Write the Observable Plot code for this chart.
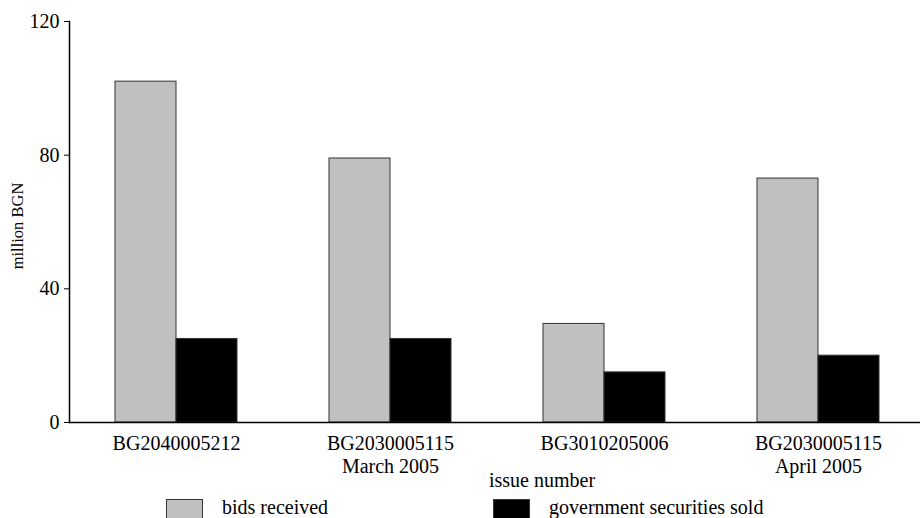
<!DOCTYPE html>
<html><head>
<meta charset="utf-8">
<script src="https://cdn.jsdelivr.net/npm/d3@7"></script>
<script src="https://cdn.jsdelivr.net/npm/@observablehq/plot@0.6"></script>
<style>
body{margin:0;background:#fff;font-family:"Liberation Serif","Times New Roman",serif;}
#wrap{position:relative;width:920px;height:518px;overflow:hidden;background:#fff;}
#wrap svg{position:absolute;left:0;top:0;overflow:visible;}
.lbl{position:absolute;font-size:20px;line-height:20px;color:#000;white-space:nowrap;}
.ylab{position:absolute;left:18px;top:226px;font-size:16.5px;line-height:16px;transform:translate(-50%,-50%) rotate(-90deg);white-space:nowrap;}
.sw{position:absolute;box-sizing:border-box;border:1px solid #333;}
</style></head><body><div id="wrap"></div>
<script>
const issues = ["BG2040005212", "BG2030005115\nMarch 2005", "BG3010205006", "BG2030005115\nApril 2005"];
const seriesNames = ["bids received", "government securities sold"];
const bidsReceived = [102, 79, 29.5, 73];
const securitiesSold = [25, 25, 15, 20];
const seriesColors = ["#c0c0c0", "#000000"];
const yTicks = [0, 40, 80, 120];
const yLabel = "million BGN";
const xLabel = "issue number";

const data = issues.flatMap((issue, i) => [
  {issue, series: seriesNames[0], value: bidsReceived[i]},
  {issue, series: seriesNames[1], value: securitiesSold[i]}
]);

const chart = Plot.plot({
  width: 920, height: 495,
  marginLeft: 67, marginRight: 0, marginTop: 21, marginBottom: 73,
  style: {fontFamily: "Liberation Serif", fontSize: "20px", background: "white", color: "black", overflow: "visible"},
  fx: {domain: issues, padding: 0, label: null, range: [67, 926]},
  x: {domain: seriesNames, paddingInner: 0, paddingOuter: 0.745, axis: null},
  y: {domain: [0, 120], label: null},
  color: {domain: seriesNames, range: seriesColors},
  marks: [
    Plot.barY(data, {fx: "issue", x: "series", y: "value", fill: "series", stroke: "#333", strokeWidth: 1}),
    Plot.ruleY([0], {stroke: "black", strokeWidth: 1.5}),
    Plot.frame({anchor: "left", facetAnchor: "left", stroke: "black", strokeWidth: 1.5}),
    Plot.axisY({ticks: yTicks, tickSize: 5, tickPadding: 5, label: null, fontSize: 20}),
    Plot.axisFx({anchor: "bottom", tickSize: 0, tickPadding: 11, label: null, lineHeight: 1.15, fontSize: 20})
  ]
});

const wrap = document.getElementById("wrap");
wrap.appendChild(chart);

const yl = document.createElement("div");
yl.className = "ylab"; yl.textContent = yLabel; wrap.appendChild(yl);

const xl = document.createElement("div");
xl.className = "lbl"; xl.textContent = xLabel;
xl.style.left = "489px"; xl.style.top = "470px"; wrap.appendChild(xl);

const legendX = [166, 493];
seriesNames.forEach((name, i) => {
  const sw = document.createElement("div");
  sw.className = "sw";
  sw.style.left = legendX[i] + "px"; sw.style.top = "499px";
  sw.style.width = "37px"; sw.style.height = "24px";
  sw.style.background = seriesColors[i];
  wrap.appendChild(sw);
  const t = document.createElement("div");
  t.className = "lbl"; t.textContent = name;
  t.style.left = (legendX[i] + 56) + "px"; t.style.top = "497px";
  wrap.appendChild(t);
});
</script>
</body></html>
